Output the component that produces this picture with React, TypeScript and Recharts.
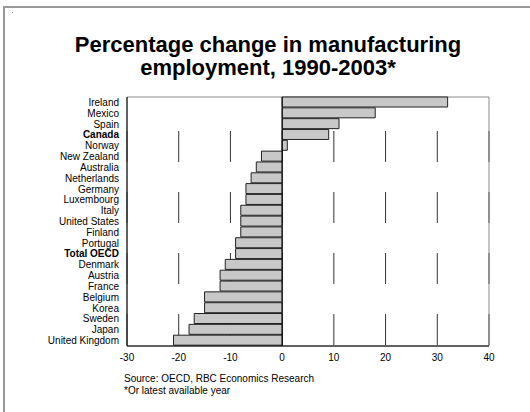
import React from 'react';
import {
  BarChart,
  Bar,
  XAxis,
  YAxis,
  CartesianGrid,
  ReferenceLine,
  ReferenceArea,
} from 'recharts';

// Countries top to bottom, as in the chart
const countries = [
  'Ireland', 'Mexico', 'Spain', 'Canada', 'Norway', 'New Zealand', 'Australia',
  'Netherlands', 'Germany', 'Luxembourg', 'Italy', 'United States', 'Finland',
  'Portugal', 'Total OECD', 'Denmark', 'Austria', 'France', 'Belgium', 'Korea',
  'Sweden', 'Japan', 'United Kingdom',
];

// % change in manufacturing employment, 1990-2003
const changes = [
  32, 18, 11, 9, 1, -4, -5, -6, -7, -7, -8, -8, -8, -9, -9, -11, -12, -12, -15,
  -15, -17, -18, -21,
];

const xTicks = [-30, -20, -10, 0, 10, 20, 30, 40];
const boldRows = ['Canada', 'Total OECD'];

const data = countries.map((name, i) => ({ name, value: changes[i] }));

const FONT = 'Arial, "Liberation Sans", Helvetica, sans-serif';

const CountryTick = (props: any) => {
  const { x, y, payload } = props;
  const bold = boldRows.includes(payload.value);
  return (
    <text
      x={x}
      y={y}
      dy={3.5}
      textAnchor="end"
      fontSize={10}
      fontFamily={FONT}
      fontWeight={bold ? 'bold' : 'normal'}
      fill="#000"
    >
      {payload.value}
    </text>
  );
};

export default function App() {
  return (
    <div
      style={{
        position: 'fixed',
        left: 0,
        top: 0,
        width: 530,
        height: 412,
        background: '#fff',
        fontFamily: FONT,
      }}
    >
      {/* page frame: only top and left edges show */}
      <div style={{ position: 'absolute', left: 3, top: 6, width: 527, height: 2, background: '#999' }} />
      <div style={{ position: 'absolute', left: 3, top: 6, width: 2, height: 406, background: '#999' }} />
      <div style={{ position: 'absolute', left: 12, top: 12, width: 1, height: 1, background: '#888' }} />

      <BarChart
        width={530}
        height={412}
        data={data}
        layout="vertical"
        margin={{ top: 97, right: 41, bottom: 36, left: 7 }}
        barSize={10}
        style={{ position: 'absolute', left: 0, top: 0 }}
      >
        <text x={268} y={52} textAnchor="middle" fontSize={22} fontWeight="bold" fontFamily={FONT} fill="#000">
          Percentage change in manufacturing
        </text>
        <text x={268} y={75} textAnchor="middle" fontSize={22} fontWeight="bold" fontFamily={FONT} fill="#000">
          employment, 1990-2003*
        </text>

        <CartesianGrid
          horizontal={false}
          stroke="#333"
          strokeDasharray="0 34 31 30 31 30 31 30 31 30"
        />
        <ReferenceArea x1={-30} x2={40} fill="none" stroke="#888" strokeWidth={1} ifOverflow="visible" />
        <XAxis
          type="number"
          domain={[-30, 40]}
          ticks={xTicks}
          tickLine={false}
          tickSize={0}
          tickMargin={8}
          axisLine={{ stroke: '#000' }}
          tick={{ fontSize: 10, fontFamily: FONT, fill: '#000' }}
        />
        <YAxis
          type="category"
          dataKey="name"
          width={120}
          interval={0}
          tickLine={false}
          tickSize={0}
          tickMargin={8}
          axisLine={{ stroke: '#000' }}
          tick={<CountryTick />}
        />
        <Bar dataKey="value" fill="#c8c8c8" stroke="#222" strokeWidth={1} isAnimationActive={false} />
        <ReferenceLine x={0} stroke="#000" strokeWidth={1} />

        <text x={124} y={382} fontSize={10} fontFamily={FONT} fill="#000">
          Source:  OECD, RBC Economics Research
        </text>
        <text x={124} y={394} fontSize={10} fontFamily={FONT} fill="#000">
          *Or latest available year
        </text>
      </BarChart>
    </div>
  );
}
